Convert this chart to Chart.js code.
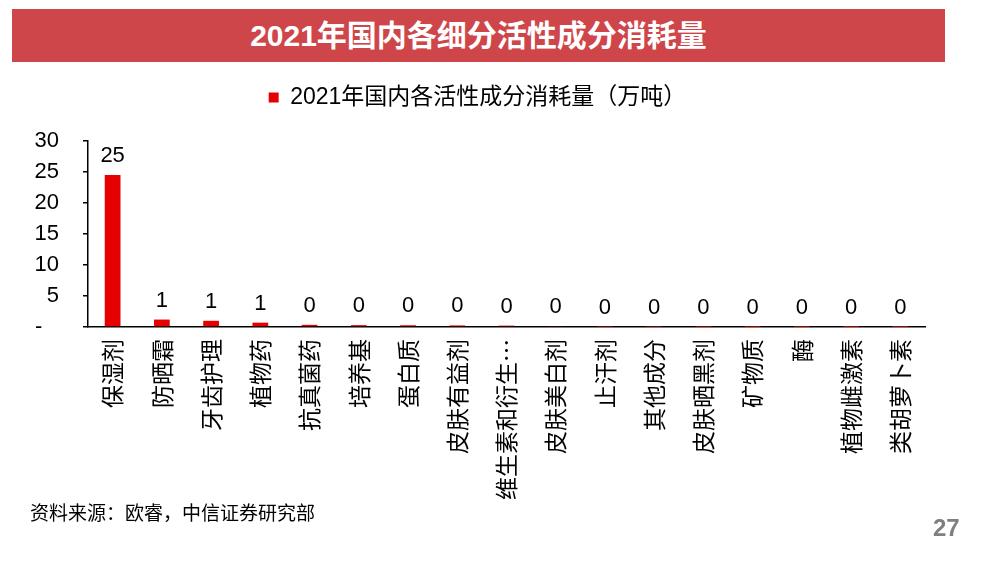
<!DOCTYPE html>
<html>
<head>
<meta charset="utf-8">
<script src="https://cdn.jsdelivr.net/npm/chart.js@4"></script>
<style>
  html, body { margin: 0; padding: 0; background: #ffffff; }
  body { width: 994px; height: 576px; position: relative; overflow: hidden;
         font-family: "Liberation Sans", "Noto Sans CJK SC", sans-serif; }
  #wrap { position: absolute; left: 0; top: 0; width: 994px; height: 576px; }
  #banner { position: absolute; left: 12px; top: 9px; width: 933px; height: 53px;
            background: #CF464A; color: #ffffff; text-align: center; line-height: 53px;
            font-family: "Liberation Sans Narrow", "Liberation Sans", "Noto Sans CJK SC", sans-serif;
            font-weight: bold; font-size: 30px; }
  #source { position: absolute; left: 30px; top: 498px; font-size: 19px; color: #000;
            font-family: "Noto Sans CJK SC", sans-serif; }
  #page { position: absolute; left: 933px; top: 514px; font-size: 24px; color: #7f7f7f; font-weight: bold;
          font-family: "Liberation Sans Narrow", "Liberation Sans", sans-serif; }
</style>
</head>
<body>
<div id="wrap"><canvas id="c" width="994" height="576"></canvas></div>
<div id="banner">2021年国内各细分活性成分消耗量</div>
<div id="source">资料来源：欧睿，中信证券研究部</div>
<div id="page">27</div>
<script>
const categories = ['保湿剂','防晒霜','牙齿护理','植物药','抗真菌药','培养基','蛋白质','皮肤有益剂','维生素和衍生…','皮肤美白剂','止汗剂','其他成分','皮肤晒黑剂','矿物质','酶','植物雌激素','类胡萝卜素'];
const consumption = [24.5, 1.2, 1.0, 0.7, 0.35, 0.3, 0.28, 0.25, 0.22, 0.1, 0.05, 0.05, 0.03, 0.02, 0.02, 0.01, 0.01];
const seriesName = '2021年国内各活性成分消耗量（万吨）';
const yTicks = [0, 5, 10, 15, 20, 25, 30];

const FONT = '"Liberation Sans", "Noto Sans CJK SC", sans-serif';

const valueLabels = {
  id: 'valueLabels',
  afterDatasetsDraw(chart) {
    const ctx = chart.ctx;
    const meta = chart.getDatasetMeta(0);
    ctx.save();
    ctx.font = '22px ' + FONT;
    ctx.fillStyle = '#000';
    ctx.textAlign = 'center';
    ctx.textBaseline = 'alphabetic';
    meta.data.forEach((bar, i) => {
      ctx.fillText(String(Math.round(consumption[i])), bar.x, bar.y - 13);
    });
    ctx.restore();
  }
};

// add a gap below the legend so the plot starts where the reference's does
const legendGap = {
  id: 'legendGap',
  beforeLayout(chart) {
    const lg = chart.legend;
    if (lg && !lg._gapPatched) {
      const fit = lg.fit;
      lg.fit = function () { fit.call(this); this.height += 22; };
      lg._gapPatched = true;
    }
  }
};

const chart = new Chart(document.getElementById('c'), {
  type: 'bar',
  data: {
    labels: categories,
    datasets: [{
      label: seriesName,
      data: consumption,
      backgroundColor: '#E60000',
      borderWidth: 0,
      barPercentage: 0.32,
      categoryPercentage: 1.0
    }]
  },
  options: {
    responsive: false,
    animation: false,
    devicePixelRatio: 1,
    layout: { padding: { top: 64, left: 30, right: 69, bottom: 0 } },
    plugins: {
      legend: {
        display: true,
        position: 'top',
        labels: {
          boxWidth: 10, boxHeight: 10, padding: 22,
          color: '#000',
          font: { size: 23, family: FONT }
        }
      },
      tooltip: { enabled: false }
    },
    scales: {
      x: {
        grid: { display: false },
        border: { display: true, color: '#000', width: 1.5 },
        ticks: {
          autoSkip: false, minRotation: 90, maxRotation: 90,
          color: '#000', padding: 4,
          font: { size: 23, family: '"Noto Sans CJK SC", sans-serif' }
        },
        afterFit(s) { s.height = 249; }
      },
      y: {
        min: 0, max: 30,
        afterBuildTicks(s) { s.ticks = yTicks.map(v => ({ value: v })); },
        grid: { drawOnChartArea: false, drawTicks: true, tickLength: 5, color: '#000', lineWidth: 1.5 },
        border: { display: true, color: '#000', width: 1.5 },
        ticks: {
          autoSkip: false,
          color: '#000', padding: 24,
          font: { size: 22, family: FONT },
          callback: (v) => v === 0 ? '-  \u2009' : String(v)
        },
        afterFit(s) { s.width = 58; }
      }
    }
  },
  plugins: [valueLabels, legendGap]
});
</script>
</body>
</html>
